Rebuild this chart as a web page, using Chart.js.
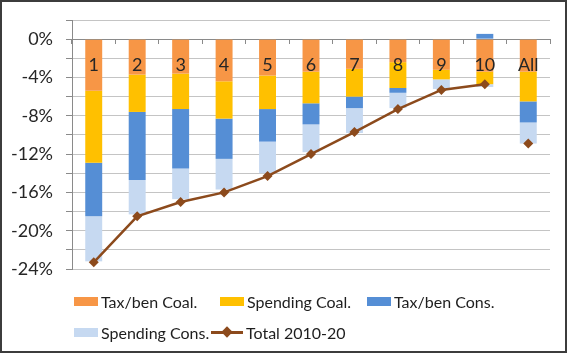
<!DOCTYPE html>
<html>
<head>
<meta charset="utf-8">
<script src="https://cdn.jsdelivr.net/npm/chart.js@4/dist/chart.umd.min.js"></script>
<style>
    body { margin: 0; background: #fff; }
    #wrap { position: relative; width: 570px; height: 353px; }
    #frame {
        position: absolute; left: 0; top: 0; width: 563px; height: 349px;
        border: 2px solid #3c3c3c; pointer-events: none;
    }
    #legend {
        position: absolute; left: 74px; top: 292px;
        font-family: Lato, sans-serif; font-size: 16px; color: #1e1e1e;
        display: grid; grid-template-columns: 146px 147px 150px; row-gap: 12px;
    }
    .item { display: flex; align-items: center; white-space: nowrap; }
    .box { width: 24px; height: 9px; margin-right: 3px; }
    .lineKey { position: relative; width: 32px; height: 3px; margin-left: -9px; margin-right: 3px; }
    .lineKey span {
        position: absolute; left: 12px; top: -3px; width: 8px; height: 8px;
        transform: rotate(45deg);
    }
</style>
</head>
<body>
<div id="wrap">
    <canvas id="chartCanvas" width="570" height="353"></canvas>
    <div id="legend"></div>
    <div id="frame"></div>
</div>
<script>
// Datos (% de cambio)
const categories = ['1', '2', '3', '4', '5', '6', '7', '8', '9', '10', 'All'];
const taxbenCoal = [-5.4, -3.7, -3.6, -4.4, -3.8, -3.4, -3.1, -2.4, -3.2, -3.4, -3.4];
const spendingCoal = [-7.5, -3.9, -3.7, -3.9, -3.5, -3.3, -2.9, -2.7, -1.0, -1.3, -3.1];
const taxbenCons = [-5.6, -7.1, -6.2, -4.2, -3.4, -2.2, -1.2, -0.5, 0, 0.55, -2.2];
const spendingCons = [-4.7, -3.6, -3.2, -3.2, -3.3, -2.9, -2.6, -1.6, -1.0, -0.3, -2.2];
const total = [-23.3, -18.5, -17.0, -16.0, -14.3, -12.0, -9.7, -7.3, -5.3, -4.7, -10.9];
const yTicks = [-24, -20, -16, -12, -8, -4, 0];

const lineColor = '#8c4a1c';
const fontName = 'Lato';

function barSet(label, data, color) {
    return {
        type: 'bar',
        label: label,
        data: data,
        backgroundColor: color,
        stack: 'bars',
        order: 1,
        categoryPercentage: 1,
        barPercentage: 0.39
    };
}

const chart = new Chart(document.getElementById('chartCanvas'), {
    type: 'bar',
    data: {
        labels: categories,
        datasets: [
            barSet('Tax/ben Coal.', taxbenCoal, 'rgb(247,150,70)'),
            barSet('Spending Coal.', spendingCoal, 'rgb(255,192,0)'),
            barSet('Tax/ben Cons.', taxbenCons, 'rgb(85,142,213)'),
            barSet('Spending Cons.', spendingCons, 'rgb(198,217,241)'),
            {
                type: 'line',
                label: 'Total 2010-20',
                data: total,
                stack: 'total',
                order: 0,
                borderColor: lineColor,
                backgroundColor: lineColor,
                borderWidth: 2.5,
                pointStyle: 'rectRot',
                pointRadius: 5,
                pointBorderWidth: 0,
                tension: 0,
                // sin segmento entre "10" y "All"
                segment: {
                    borderColor: ctx => ctx.p1DataIndex === categories.length - 1 ? 'transparent' : lineColor
                }
            }
        ]
    },
    options: {
        responsive: false,
        animation: false,
        layout: { padding: { left: 0, right: 20, top: 20, bottom: 84 } },
        plugins: {
            legend: { display: false },
            tooltip: { enabled: false }
        },
        scales: {
            x: {
                position: { y: 0 },
                stacked: true,
                grid: {
                    display: true, drawOnChartArea: false, drawTicks: true,
                    tickLength: 4, offset: true, color: '#8a8a8a'
                },
                border: { display: true, color: '#8a8a8a' },
                ticks: {
                    z: 1, // etiquetas encima de las barras
                    padding: 11,
                    color: '#262626',
                    font: { family: fontName, size: 18 },
                    maxRotation: 0,
                    autoSkip: false
                }
            },
            y: {
                stacked: true,
                min: -24,
                max: 2,
                afterFit: scale => {
                    scale.width = 72;
                    scale.paddingTop = 0;
                    scale.paddingBottom = 0;
                },
                grid: { color: '#c4c4c4', tickLength: 6, tickColor: '#8a8a8a' },
                border: { display: true, color: '#8a8a8a' },
                ticks: {
                    stepSize: 2,
                    autoSkip: false,
                    padding: 13,
                    color: '#262626',
                    font: { family: fontName, size: 18 },
                    callback: value => yTicks.includes(value) ? value + '%' : ''
                }
            }
        }
    }
});

// Leyenda en columnas como en el original
function buildLegend(chart) {
    const legend = document.getElementById('legend');
    for (const ds of chart.data.datasets) {
        const item = document.createElement('div');
        item.className = 'item';
        if (ds.type === 'line') {
            item.innerHTML = `<div class="lineKey" style="background:${ds.borderColor}"><span style="background:${ds.borderColor}"></span></div>`;
        } else {
            item.innerHTML = `<div class="box" style="background:${ds.backgroundColor}"></div>`;
        }
        const text = document.createElement('span');
        text.textContent = ds.label;
        item.appendChild(text);
        legend.appendChild(item);
    }
}

buildLegend(chart);
</script>
</body>
</html>
